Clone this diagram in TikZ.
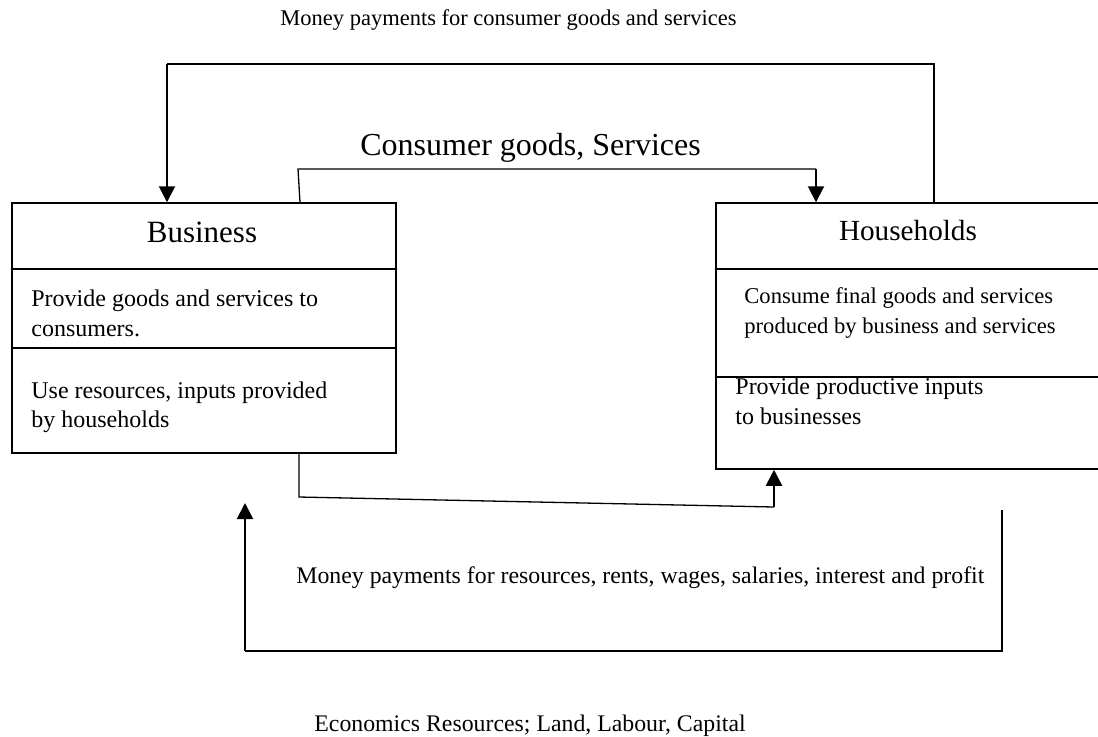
\documentclass[tikz,border=0pt]{standalone}
\usepackage{fontspec}
\setmainfont{Liberation Serif}
\usetikzlibrary{arrows.meta}

\tikzset{
  box/.style={draw, line width=0.75pt, rectangle, inner sep=0pt},
  rowline/.style={line width=0.75pt},
  flow/.style={line width=0.65pt},
  thickflow/.style={line width=1pt},
  arrowflow/.style={line width=1pt, -{Triangle[length=8pt,width=8pt]}},
  body/.style={inner sep=0pt, align=left, font=\fontsize{12}{15}\selectfont},
}

\begin{document}
\begin{tikzpicture}[x=0.5pt,y=-0.5pt]
\useasboundingbox (0,0) rectangle (1098,736);

\node[box, minimum width=192pt, minimum height=125pt] (biz) at (204,328) {};
\node[box, minimum width=192.5pt, minimum height=133pt] (hh) at (908.5,336) {};
\draw[rowline] (biz.west |- 0,269) -- (biz.east |- 0,269);
\draw[rowline] (biz.west |- 0,348) -- (biz.east |- 0,348);
\draw[rowline] (hh.west |- 0,269) -- (hh.east |- 0,269);
\draw[rowline] (hh.west |- 0,377) -- (hh.east |- 0,377);

\node[inner sep=0pt, anchor=base, font=\fontsize{15.5}{18}\selectfont] (biztitle) at (202,242) {Business};
\node[inner sep=0pt, anchor=base, font=\fontsize{14.6}{17}\selectfont] (hhtitle) at (908,240) {Households};
\node[body, anchor=north west] (bizgoods) at (31,289) {Provide goods and services to\\consumers.};
\node[body, anchor=north west, font=\fontsize{12}{14.5}\selectfont] (bizuse) at (31,381) {Use resources, inputs provided\\by households};
\node[body, anchor=north west, font=\fontsize{11.3}{15}\selectfont] (hhcons) at (744,287) {Consume final goods and services\\produced by business and services};
\node[body, anchor=north west] (hhprov) at (735,377) {Provide productive inputs\\to businesses};

% flows
\coordinate (ptr) at (934,64);
\coordinate (ptl) at (167,64);
\draw[flow] (hh.north -| ptr) -- (ptr) -- (ptl);
\draw[arrowflow] (ptl) -- (biz.north -| ptl);

\coordinate (cgl) at (298,169);
\coordinate (cgr) at (816,169);
\draw[flow] (biz.north -| 300,0) -- (cgl) -- (cgr);
\draw[arrowflow] (cgr) -- (hh.north -| cgr);

\coordinate (inl) at (299,497);
\coordinate (inr) at (774,507);
\draw[flow] (biz.south -| inl) -- (inl) -- (inr);
\draw[arrowflow] (inr) -- (hh.south -| inr);

\coordinate (mpr) at (1002,510);
\coordinate (mpbr) at (1002,651);
\coordinate (mpbl) at (245,651);
\coordinate (mptip) at (245,503);
\draw[thickflow] (mpr) -- (mpbr) -- (mpbl);
\draw[arrowflow] (mpbl) -- (mptip);

\node[inner sep=0pt, anchor=base west, font=\fontsize{11.25}{13}\selectfont] (toplabel) at (280,25) {Money payments for consumer goods and services};
\node[inner sep=0pt, anchor=base west, font=\fontsize{16}{19}\selectfont] (cglabel) at (360,155) {Consumer goods, Services};
\node[inner sep=0pt, anchor=base west, font=\fontsize{11.9}{14}\selectfont] (mplabel) at (296,583) {Money payments for resources, rents, wages, salaries, interest and profit};
\node[inner sep=0pt, anchor=base west, font=\fontsize{11.9}{14}\selectfont] (reslabel) at (314,731) {Economics Resources; Land, Labour, Capital};
\end{tikzpicture}
\end{document}
